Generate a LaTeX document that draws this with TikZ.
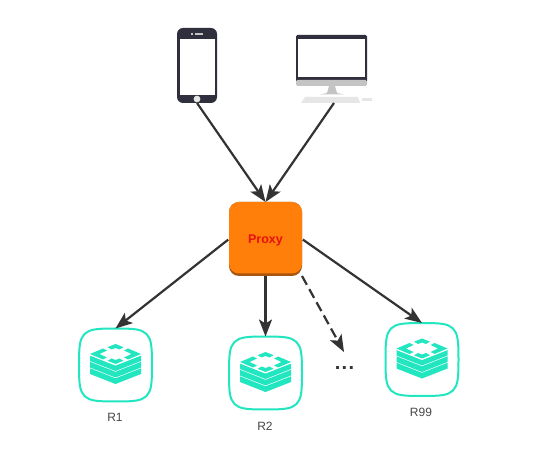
\documentclass[tikz,border=0pt]{standalone}
\usepackage{fontspec}
\setmainfont{Liberation Sans}
\usetikzlibrary{arrows.meta}
\definecolor{aqua}{HTML}{22E6C0}
\definecolor{ink}{HTML}{333333}
\definecolor{device}{HTML}{2F2F3D}
\definecolor{pumpkin}{HTML}{FF7F0A}
\definecolor{rust}{HTML}{A8560F}
\definecolor{proxyred}{HTML}{E6100F}
\definecolor{chin}{HTML}{C4C4C4}
\definecolor{keyb}{HTML}{E6E6E6}
\tikzset{
  x=1pt,y=-1pt,
  anchorbox/.style={inner sep=0pt,outer sep=0pt,minimum width=#1},
  link/.style={draw=ink,line width=2.2pt,-{Stealth[length=17pt,width=13pt,inset=4pt]}},
  dashlink/.style={link,dash pattern=on 10pt off 5pt},
  lab/.style={font=\fontsize{12}{14}\selectfont,text=ink!90,inner sep=0pt},
  redis/.pic={
    \draw[aqua,line width=2pt,fill=white]
      (0,-36.5) .. controls (18,-36.5) and (26,-36) .. (31,-31)
      .. controls (36,-26) and (36.5,-18) .. (36.5,0)
      .. controls (36.5,18) and (36,26) .. (31,31)
      .. controls (26,36) and (18,36.5) .. (0,36.5)
      .. controls (-18,36.5) and (-26,36) .. (-31,31)
      .. controls (-36,26) and (-36.5,18) .. (-36.5,0)
      .. controls (-36.5,-18) and (-36,-26) .. (-31,-31)
      .. controls (-26,-36) and (-18,-36.5) .. (0,-36.5) -- cycle;
    \foreach \yy in {-9,-2.5,4}{
      \fill[aqua] (-25.5,\yy-.7) -- (0,\yy+9.3) -- (25.5,\yy-.7) -- (25.5,\yy+5) -- (0,\yy+15) -- (-25.5,\yy+5) -- cycle;
    }
    % top layer: four corner pieces of a diamond ring
    \fill[white] (-25.5,-11) -- (0,-21) -- (25.5,-11) -- (25.5,-9.5) -- (0,.5) -- (-25.5,-9.5) -- cycle;
    \fill[aqua] (-8,-17.8) -- (0,-21) -- (8,-17.8) -- (4,-15.5) -- (0,-17) -- (-4,-15.5) -- cycle;
    \fill[aqua] (-8,-4.2) -- (0,-1) -- (8,-4.2) -- (4,-6.5) -- (0,-5) -- (-4,-6.5) -- cycle;
    \fill[aqua] (-25.5,-11) -- (-12.5,-16.5) -- (-8.5,-14.5) -- (-16,-11) -- (-8.5,-7.5) -- (-12.5,-5.5) -- cycle;
    \fill[aqua] (25.5,-11) -- (12.5,-16.5) -- (8.5,-14.5) -- (16,-11) -- (8.5,-7.5) -- (12.5,-5.5) -- cycle;
  }
}
\begin{document}
\begin{tikzpicture}
\useasboundingbox (0,0) rectangle (560,462);
\fill[white] (0,0) rectangle (560,462);

% phone
\node[anchorbox=40pt,minimum height=75pt] (phone) at (197,65.5) {};
\fill[device,rounded corners=6pt] (177,28) rectangle (217,103);
\fill[white] (179.5,39) rectangle (214.5,95);
\fill[chin] (191,33.4) rectangle (192.5,34.6);
\fill[chin] (194.5,33.4) rectangle (203,34.6);
\fill[keyb] (197,99) circle (3.4pt);

% desktop
\node[anchorbox=76pt,minimum height=68pt] (desktop) at (334,69) {};
\fill[device,rounded corners=1.5pt] (296,35) rectangle (367,82);
\fill[white] (298,39) rectangle (365,77);
\fill[chin,rounded corners=1.5pt] (296,80) rectangle (367,86);
\fill[chin] (329,86) -- (335,86) -- (337,93) -- (344,94.5) -- (320,94.5) -- (327,93) -- cycle;
\fill[keyb] (305,97) -- (358,97) -- (360,103) -- (301,103) -- cycle;
\fill[keyb] (362,98) rectangle (372,101);

% proxy
\node[anchorbox=73pt,minimum height=74pt,fill=rust,rounded corners=10pt] (proxy) at (265.5,239) {};
\fill[pumpkin,rounded corners=10pt] (229,202) rectangle (302,273.5);
\node[font=\bfseries\fontsize{12.5}{14}\selectfont,text=proxyred,inner sep=0pt] (proxylabel) at (265.5,240.5) {Proxy};

% redis servers
\pic at (115.5,365) {redis};
\pic at (265.5,373) {redis};
\pic at (422,359.5) {redis};
\node[anchorbox=73pt,minimum height=73pt] (r1) at (115.5,365) {};
\node[anchorbox=73pt,minimum height=73pt] (r2) at (265.5,373) {};
\node[anchorbox=73pt,minimum height=73pt] (r99) at (422,359.5) {};
\node[lab] (r1label) at (115,417) {R1};
\node[lab] (r2label) at (265,426) {R2};
\node[lab] (r99label) at (421,412) {R99};

% dots
\node[anchorbox=16pt,minimum height=16pt] (dots) at (344,360) {};
\node[font=\bfseries\fontsize{20}{20}\selectfont,text=ink,inner sep=0pt,anchor=base] (dotstext) at (344.5,370) {\addfontfeature{LetterSpace=7}...};

% connectors
\draw[link] (phone.south) -- (proxy.north);
\draw[link] (desktop.south) -- (proxy.north);
\draw[link,shorten <=1pt] (proxy.west) -- (r1.north);
\draw[link] (proxy.south) -- (r2.north);
\draw[dashlink] (proxy.south east) -- (dots.north);
\draw[link,shorten <=1pt] (proxy.east) -- (r99.north);
\end{tikzpicture}
\end{document}
